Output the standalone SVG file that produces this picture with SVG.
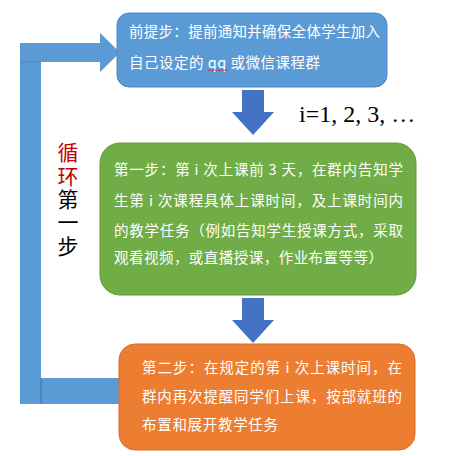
<svg xmlns="http://www.w3.org/2000/svg" width="449" height="456" viewBox="0 0 449 456">
<style>
.t{font-family:"Noto Sans CJK SC","Liberation Sans",sans-serif;font-size:14.5px;fill:#ffffff}
.v{font-family:"Noto Sans CJK SC",sans-serif;font-size:21px}
.loop{fill:#5b9bd5}
.dn{fill:#4472c4}
</style>
<rect width="449" height="456" fill="#ffffff"/>
<g id="connectors">
  <g id="loop-arrow">
    <rect class="loop" x="20" y="43" width="21" height="361"/>
    <polygon class="loop" points="20,43 100,43 100,33 120,52.5 100,72 100,62 20,62"/>
    <rect class="loop" x="41" y="378" width="78" height="26"/>
    <line x1="41" y1="378" x2="41" y2="404" stroke="#41719c" stroke-width="1"/>
    <line x1="20" y1="62" x2="41" y2="62" stroke="#41719c" stroke-width="0.5"/>
  </g>
  <polygon id="arrow1" class="dn" points="242,90 264,90 264,112 274,112 253,135 232,112 242,112"/>
  <polygon id="arrow2" class="dn" points="242,298 264,298 264,320 274,320 253,343 232,320 242,320"/>
</g>
<g id="node-pre">
  <rect x="117" y="13" width="270" height="74" rx="12" fill="#5b9bd5" stroke="#4a87c0" stroke-width="1"/>
  <text class="t" x="129" y="37" textLength="251" lengthAdjust="spacing">前提步：提前通知并确保全体学生加入</text>
  <text class="t" x="129" y="68" textLength="191" lengthAdjust="spacing">自己设定的 qq 或微信课程群</text>
  <path d="M208,71 l2,-1.5 l2,1.5 l2,-1.5 l2,1.5 l2,-1.5 l2,1.5 l2,-1.5 l2,1.5 l2,-1.5 l2,1.5" fill="none" stroke="#e02020" stroke-width="0.8"/>
</g>
<g id="label-i">
  <text x="299" y="122" font-family="Liberation Serif, serif" font-size="24" fill="#000000">i=1, 2, 3, …</text>
</g>
<g id="node-step1">
  <rect x="100" y="143" width="316" height="152" rx="20" fill="#70ad47" stroke="#62993d" stroke-width="1"/>
  <text class="t" x="114" y="175" textLength="289" lengthAdjust="spacing">第一步：第 i 次上课前 3 天，在群内告知学</text>
  <text class="t" x="114" y="206" textLength="289" lengthAdjust="spacing">生第 i 次课程具体上课时间，及上课时间内</text>
  <text class="t" x="114" y="236" textLength="289" lengthAdjust="spacing">的教学任务（例如告知学生授课方式，采取</text>
  <text class="t" x="114" y="263" textLength="269" lengthAdjust="spacing">观看视频，或直播授课，作业布置等等）</text>
</g>
<g id="node-step2">
  <rect x="119" y="344" width="296" height="106" rx="16" fill="#ed7d31" stroke="#d86f28" stroke-width="1"/>
  <text class="t" x="142" y="373" textLength="260" lengthAdjust="spacing">第二步：在规定的第 i 次上课时间，在</text>
  <text class="t" x="142" y="402" textLength="260" lengthAdjust="spacing">群内再次提醒同学们上课，按部就班的</text>
  <text class="t" x="142" y="430" textLength="136" lengthAdjust="spacing">布置和展开教学任务</text>
</g>
<g id="label-loop">
  <text class="v" x="68" y="142" writing-mode="vertical-rl" letter-spacing="2.3" fill="#000000"><tspan fill="#c00000">循环</tspan>第一步</text>
</g>
</svg>
